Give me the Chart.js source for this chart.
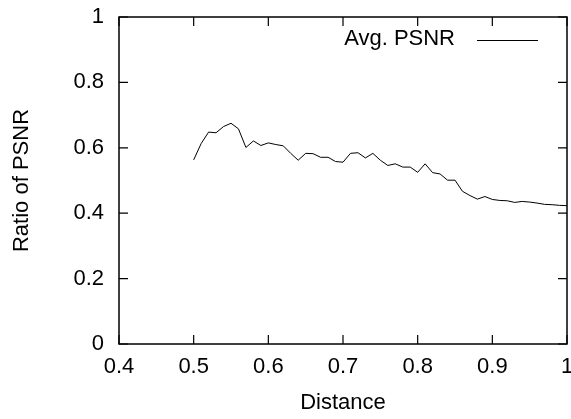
<!DOCTYPE html>
<html>
<head>
<meta charset="utf-8">
<script src="https://cdn.jsdelivr.net/npm/chart.js@4.4.0/dist/chart.umd.min.js"></script>
<style>
html,body{margin:0;padding:0;background:#fff;}
canvas{display:block;}
</style>
</head>
<body>
<canvas id="c" width="571" height="419"></canvas>
<script>
const distances = [0.50,0.51,0.52,0.53,0.54,0.55,0.56,0.57,0.58,0.59,
  0.60,0.61,0.62,0.63,0.64,0.65,0.66,0.67,0.68,0.69,
  0.70,0.71,0.72,0.73,0.74,0.75,0.76,0.77,0.78,0.79,
  0.80,0.81,0.82,0.83,0.84,0.85,0.86,0.87,0.88,0.89,
  0.90,0.91,0.92,0.93,0.94,0.95,0.96,0.97,0.98,0.99,1.00];
const avgPSNR = [0.563,0.613,0.648,0.646,0.665,0.675,0.658,0.601,0.621,0.607,
  0.615,0.610,0.606,0.583,0.562,0.583,0.582,0.571,0.571,0.558,
  0.556,0.583,0.585,0.569,0.583,0.562,0.546,0.551,0.541,0.541,
  0.525,0.551,0.524,0.520,0.501,0.501,0.467,0.454,0.443,0.451,
  0.442,0.439,0.438,0.433,0.436,0.434,0.431,0.427,0.426,0.424,0.423];
const seriesLabel = 'Avg. PSNR';
const xTitle = 'Distance';
const yTitle = 'Ratio of PSNR';

const FONT = "'Liberation Sans', Arial, Helvetica, sans-serif";
const FS = 22;
const fmt = v => String(Math.round(v * 10) / 10);

const framePlugin = {
  id: 'frame',
  afterDraw(chart) {
    const ctx = chart.ctx;
    const a = chart.chartArea;
    const xs = chart.scales.x, ys = chart.scales.y;
    ctx.save();
    ctx.strokeStyle = '#000';
    ctx.lineWidth = 1.5;
    ctx.strokeRect(a.left, a.top, a.right - a.left, a.bottom - a.top);
    ctx.lineWidth = 1.2;
    const TL = 9;
    ctx.beginPath();
    xs.ticks.forEach(t => {
      const px = xs.getPixelForValue(t.value);
      ctx.moveTo(px, a.bottom); ctx.lineTo(px, a.bottom - TL);
      ctx.moveTo(px, a.top); ctx.lineTo(px, a.top + TL);
    });
    ys.ticks.forEach(t => {
      const py = ys.getPixelForValue(t.value);
      ctx.moveTo(a.left, py); ctx.lineTo(a.left + TL, py);
      ctx.moveTo(a.right, py); ctx.lineTo(a.right - TL, py);
    });
    ctx.stroke();
    // legend
    ctx.fillStyle = '#000';
    ctx.font = FS + 'px ' + FONT;
    ctx.textAlign = 'right';
    ctx.textBaseline = 'middle';
    ctx.fillText(chart.data.datasets[0].label, 455, 39);
    ctx.lineWidth = 1;
    ctx.beginPath();
    ctx.moveTo(477, 40.5); ctx.lineTo(538, 40.5);
    ctx.stroke();
    ctx.restore();
  }
};

new Chart(document.getElementById('c'), {
  type: 'line',
  data: {
    datasets: [{
      label: seriesLabel,
      data: distances.map((d, i) => ({x: d, y: avgPSNR[i]})),
      borderColor: '#000',
      borderWidth: 1,
      pointRadius: 0,
      tension: 0,
      fill: false
    }]
  },
  options: {
    responsive: false,
    animation: false,
    layout: {padding: {top: 17, right: 4, left: 0, bottom: 0}},
    plugins: {legend: {display: false}, tooltip: {enabled: false}},
    scales: {
      x: {
        type: 'linear', min: 0.4, max: 1.0,
        grid: {display: false, drawTicks: false},
        border: {display: false},
        ticks: {stepSize: 0.1, color: '#000', font: {family: FONT, size: FS}, padding: 10, maxRotation: 0, callback: fmt},
        title: {display: true, text: xTitle, color: '#000', font: {family: FONT, size: FS}, padding: {top: 0, bottom: 3}},
        afterFit(s) { s.height = 75; s.paddingLeft = 0; s.paddingRight = 0; }
      },
      y: {
        min: 0, max: 1,
        grid: {display: false, drawTicks: false},
        border: {display: false},
        ticks: {stepSize: 0.2, color: '#000', font: {family: FONT, size: FS}, padding: 15, callback: fmt},
        title: {display: true, text: yTitle, color: '#000', font: {family: FONT, size: FS}, padding: {top: 9, bottom: 0}},
        afterFit(s) { s.width = 119; s.paddingTop = 0; s.paddingBottom = 0; }
      }
    }
  },
  plugins: [framePlugin]
});
</script>
</body>
</html>
